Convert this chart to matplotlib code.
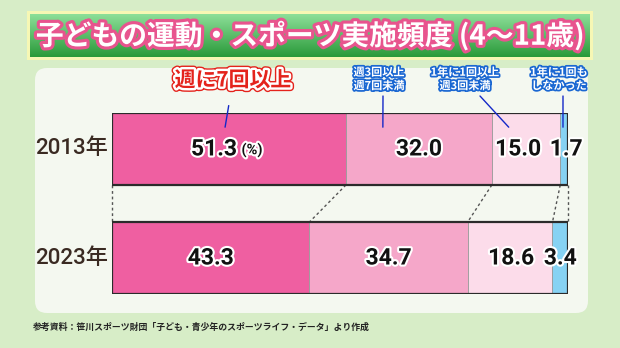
import numpy as np
import matplotlib
matplotlib.use("Agg")
import matplotlib.pyplot as plt
import matplotlib.patheffects as pe
from matplotlib.patches import FancyBboxPatch, Rectangle

plt.rcParams['font.family'] = ['Noto Sans CJK JP', 'DejaVu Sans']
NUM_FONT = ['Roboto', 'DejaVu Sans']
YEAR_FONT = ['Roboto', 'Noto Sans CJK JP']

# --- data ---
years = ["2013年", "2023年"]
categories = ["週に7回以上", "週3回以上\n週7回未満", "1年に1回以上\n週3回未満", "1年に1回も\nしなかった"]
values_2013 = [51.3, 32.0, 15.0, 1.7]
values_2023 = [43.3, 34.7, 18.6, 3.4]
colors = ["#ef5fa1", "#f5a7c9", "#fcdcea", "#86d2f3"]
title = "子どもの運動・スポーツ実施頻度 (4〜11歳)"
source = "参考資料：笹川スポーツ財団「子ども・青少年のスポーツライフ・データ」より作成"

W, H = 620, 348
fig = plt.figure(figsize=(W / 100, H / 100), dpi=100)
fig.patch.set_facecolor("#d7edc7")

# background layer in pixel coordinates
bg = fig.add_axes([0, 0, 1, 1])
bg.set_xlim(0, W)
bg.set_ylim(H, 0)
bg.axis("off")

# title banner with glow and green gradient
bg.add_patch(Rectangle((27, 11), 566, 49, facecolor="#f6f7b4", edgecolor="none", zorder=1))
grad = np.linspace(0, 1, 64).reshape(-1, 1)
top_c = np.array([0x8c, 0xdf, 0x98]) / 255
bot_c = np.array([0x2a, 0x9a, 0x3a]) / 255
img = (top_c + (bot_c - top_c) * grad[..., None]).reshape(64, 1, 3)
bg.imshow(img, extent=(30, 590, 57, 14), aspect="auto", zorder=2, interpolation="bilinear")
bg.text(310, 36, title, ha="center", va="center", fontsize=20, fontweight="bold",
        color="white", zorder=3,
        path_effects=[pe.withStroke(linewidth=4.5, foreground="#e8548e")])

# white panel
bg.add_patch(FancyBboxPatch((35, 68), 553, 245, boxstyle="round,pad=0,rounding_size=12",
                            facecolor="#f4f8f0", edgecolor="none", zorder=1))

# source note
bg.text(33, 327, source, ha="left", va="center", fontsize=6.4, fontweight="bold",
        color="#222222", zorder=3)

# --- bars ---
ax = fig.add_axes([112 / W, 1 - 294 / H, (568 - 112) / W, (294 - 113) / H])
ax.set_xlim(0, 100)
ax.set_ylim(-0.33, 1.33)
ax.axis("off")
ax.patch.set_alpha(0)

ypos = {"2013年": 1, "2023年": 0}
h = 0.66
series = {"2013年": values_2013, "2023年": values_2023}
# horizontal nudges (pixels) for value labels in narrow segments
nudge = {"2013年": [-15, 0, -8, 2], "2023年": [0, 0, 1, 0]}
stroke = [pe.withStroke(linewidth=3, foreground="white")]
for yr in years:
    vals = np.array(series[yr])
    lefts = np.concatenate([[0], np.cumsum(vals)[:-1]])
    ax.barh(ypos[yr], vals, left=lefts, height=h, color=colors,
            edgecolor="#9a9a9a", linewidth=0.6, zorder=2)
    ax.barh(ypos[yr], vals.sum(), height=h, fill=False, edgecolor="#2b2b2b",
            linewidth=1.6, zorder=3)
    for i, (l, v) in enumerate(zip(lefts, vals)):
        mid = l + v / 2
        ax.annotate(f"{v:.1f}", (mid, ypos[yr]), xytext=(nudge[yr][i], 0),
                    textcoords="offset pixels", ha="center", va="center", fontsize=16.5,
                    family=NUM_FONT, fontweight="bold", color="#111111",
                    path_effects=stroke, zorder=5)
        if yr == "2013年" and i == 0:
            ax.annotate("(%)", (mid, ypos[yr]), xytext=(23, -1), textcoords="offset pixels",
                        ha="center", va="center", fontsize=10.5, family=NUM_FONT,
                        fontweight="bold", color="#111111", path_effects=stroke, zorder=5)
    # year labels
    ax.annotate(yr, (0, ypos[yr]), xytext=(-40, 0), textcoords="offset pixels",
                ha="center", va="center", fontsize=16, family=YEAR_FONT,
                fontweight="medium", color="#3a2a22", annotation_clip=False)

# dotted connectors between cumulative boundaries
b13 = np.concatenate([[0], np.cumsum(values_2013)])
b23 = np.concatenate([[0], np.cumsum(values_2023)])
for x0, x1 in zip(b13, b23):
    ax.plot([x0, x1], [1 - h / 2, h / 2], linestyle=(0, (2, 2)), color="#555555",
            linewidth=1.0, zorder=1, clip_on=False)

# category callouts
blue_line = "#1428c8"
ax.annotate(categories[0], xy=(24.8, 1.2), xycoords="data",
            xytext=(233, 80), textcoords=bg.transData,
            ha="center", va="center", fontsize=15, fontweight="bold", color="#e4231c",
            path_effects=[pe.withStroke(linewidth=5.5, foreground="#e4231c"),
                          pe.withStroke(linewidth=3.5, foreground="white")],
            arrowprops=dict(arrowstyle="-", color=blue_line, lw=1.0, shrinkA=9, shrinkB=0),
            zorder=6, annotation_clip=False)
small = [(categories[1], 59.4, (379, 79), (383, 96)),
         (categories[2], 87.0, (465, 79), (480, 96)),
         (categories[3], 98.9, (559, 79), (563, 96))]
for label, xd, txy, lstart in small:
    bg.text(txy[0], txy[1], label, ha="center", va="center", fontsize=8, fontweight="bold",
            color="white", linespacing=1.05, zorder=6,
            path_effects=[pe.withStroke(linewidth=2.5, foreground="#1a67d2")])
    ax.annotate("", xy=(xd, 1.2), xycoords="data", xytext=lstart, textcoords=bg.transData,
                arrowprops=dict(arrowstyle="-", color=blue_line, lw=1.0, shrinkA=0, shrinkB=0),
                zorder=6, annotation_clip=False)

fig.savefig("out.png", dpi=100, facecolor=fig.get_facecolor())
